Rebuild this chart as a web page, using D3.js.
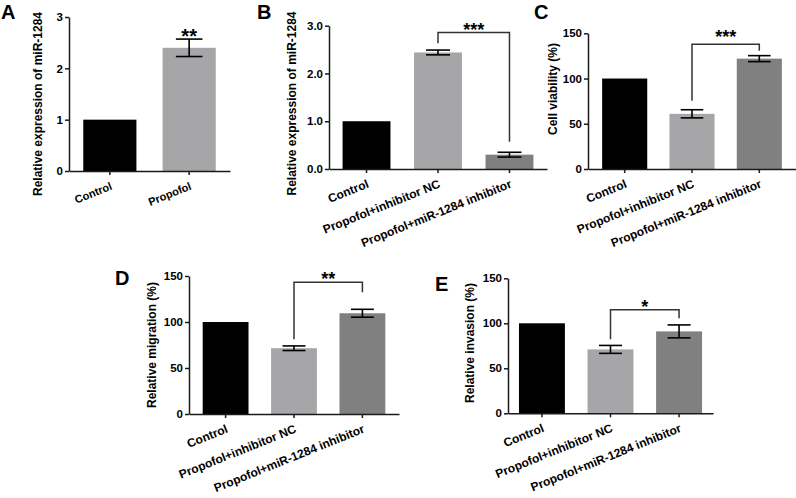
<!DOCTYPE html>
<html><head><meta charset="utf-8">
<script src="https://cdn.jsdelivr.net/npm/d3@7"></script>
<style>
html,body{margin:0;padding:0;background:#fff;}
svg{display:block;font-family:"Liberation Sans",Arial,sans-serif;}
</style></head>
<body>
<svg id="chart" width="796" height="498"></svg>
<script>
// ---------------- data ----------------
const panelLetters = ["A", "B", "C", "D", "E"];
const categoriesA = ["Control", "Propofol"];
const categoriesBCDE = ["Control", "Propofol+inhibitor NC", "Propofol+miR-1284 inhibitor"];
const yTitles = [
  "Relative expression of miR-1284",
  "Relative expression of miR-1284",
  "Cell viability (%)",
  "Relative migration (%)",
  "Relative invasion (%)"
];
const meanA = [1.0, 2.40];
const errA  = [0, 0.17];
const meanB = [1.0, 2.44, 0.30];
const errB  = [0, 0.05, 0.05];
const meanC = [100, 61, 122];
const errC  = [0, 4.5, 3.3];
const meanD = [100, 71.5, 109.5];
const errD  = [0, 2.5, 4.3];
const meanE = [100, 71, 91];
const errE  = [0, 4.4, 7.2];
const ticksA = [0, 1, 2, 3];
const ticksB = [0, 1, 2, 3];
const ticksPct = [0, 50, 100, 150];
// significance annotations (data units): label, star height, bracket [from,to], top, left end, right end
const sigLabels = ["**", "***", "***", "**", "*"];
const sigStarY  = [2.71, 2.99, 150.3, 150.5, 122.6];
const sigTop    = [null, 2.86, 137.8, 143.2, 115.1];
const sigLeft   = [null, 2.63, 75.5, 81.2, 82.2];
const sigRight  = [null, 0.57, 130.7, 132.3, 105.6];

// ---------------- layout ----------------
const colors = ["#000000", "#a6a6a9", "#808080"];
const layout = [
  {x0: 69,  x1: 230, y0: 171,   yTop: 17,    po: 0.18, ymax: 3,   fmt: d3.format("d"),   lab: [1, 19],   xfs: 11, starFs: 20},
  {x0: 329, x1: 547, y0: 169,   yTop: 25.7,  po: 0.19, ymax: 3,   fmt: d3.format(".1f"), lab: [257, 19], xfs: 12, starFs: 18},
  {x0: 588, x1: 796, y0: 169,   yTop: 33.3,  po: 0.21, ymax: 150, fmt: d3.format("d"),   lab: [534, 19], xfs: 12, starFs: 18},
  {x0: 189, x1: 399, y0: 414,   yTop: 276,   po: 0.20, ymax: 150, fmt: d3.format("d"),   lab: [115, 285], xfs: 12, starFs: 18},
  {x0: 508, x1: 713, y0: 413.3, yTop: 278.3, po: 0.16, ymax: 150, fmt: d3.format("d"),   lab: [435, 291], xfs: 12, starFs: 18}
];
const titlePos = [[38, 104], [292, 103.5], [553, 89], [152, 345], [470, 343]];

const panels = [
  {cats: categoriesA,    mean: meanA, err: errA, ticks: ticksA},
  {cats: categoriesBCDE, mean: meanB, err: errB, ticks: ticksB},
  {cats: categoriesBCDE, mean: meanC, err: errC, ticks: ticksPct},
  {cats: categoriesBCDE, mean: meanD, err: errD, ticks: ticksPct},
  {cats: categoriesBCDE, mean: meanE, err: errE, ticks: ticksPct}
];

const svg = d3.select("#chart");
const axisColor = "#1a1a1a";

panels.forEach((p, i) => {
  const L = layout[i];
  const g = svg.append("g");
  const x = d3.scaleBand().domain(p.cats).range([L.x0, L.x1]).paddingInner(0.33).paddingOuter(L.po);
  const y = d3.scaleLinear().domain([0, L.ymax]).range([L.y0, L.yTop]);
  const rows = p.cats.map((c, k) => ({c, v: p.mean[k], e: p.err[k], k}));

  // bars
  g.selectAll("rect.bar").data(rows).enter().append("rect")
    .attr("x", d => x(d.c)).attr("width", x.bandwidth())
    .attr("y", d => y(d.v)).attr("height", d => y(0) - y(d.v))
    .attr("fill", d => colors[d.k]);

  // error bars
  const eg = g.selectAll("g.err").data(rows.filter(d => d.e > 0)).enter().append("g")
    .attr("stroke", "#000").attr("stroke-width", 1.6).attr("fill", "none");
  const cw = x.bandwidth() * 0.25;
  eg.append("line").attr("x1", d => x(d.c) + x.bandwidth()/2).attr("x2", d => x(d.c) + x.bandwidth()/2)
    .attr("y1", d => y(d.v + d.e)).attr("y2", d => y(d.v - d.e));
  eg.append("line").attr("x1", d => x(d.c) + x.bandwidth()/2 - cw).attr("x2", d => x(d.c) + x.bandwidth()/2 + cw)
    .attr("y1", d => y(d.v + d.e)).attr("y2", d => y(d.v + d.e));
  eg.append("line").attr("x1", d => x(d.c) + x.bandwidth()/2 - cw).attr("x2", d => x(d.c) + x.bandwidth()/2 + cw)
    .attr("y1", d => y(d.v - d.e)).attr("y2", d => y(d.v - d.e));

  // y axis
  const ya = g.append("g").attr("transform", `translate(${L.x0},0)`)
    .call(d3.axisLeft(y).tickValues(p.ticks).tickFormat(L.fmt).tickSize(4).tickSizeOuter(0).tickPadding(2));
  // x axis
  const xa = g.append("g").attr("transform", `translate(0,${L.y0})`)
    .call(d3.axisBottom(x).tickSize(4).tickSizeOuter(0).tickFormat(""));
  [ya, xa].forEach(a => {
    a.select(".domain").attr("stroke", axisColor).attr("stroke-width", 1.5);
    a.selectAll(".tick line").attr("stroke", axisColor).attr("stroke-width", 1.5);
  });
  ya.selectAll(".tick text").attr("fill", "#000").attr("font-size", 11.5).attr("font-weight", "bold")
    .attr("font-family", "Liberation Sans, Arial, sans-serif");

  // x labels (rotated)
  g.selectAll("text.xl").data(p.cats).enter().append("text")
    .attr("transform", c => `translate(${x(c) + x.bandwidth()/2 + 3},${L.y0 + 18}) rotate(-22)`)
    .attr("text-anchor", "end").attr("font-size", L.xfs).attr("font-weight", "bold").attr("fill", "#000")
    .text(c => c);

  // y title
  g.append("text")
    .attr("transform", `translate(${titlePos[i][0]},${titlePos[i][1]}) rotate(-90)`)
    .attr("text-anchor", "middle").attr("dominant-baseline", "central")
    .attr("font-size", 12).attr("font-weight", "bold").attr("fill", "#000")
    .text(yTitles[i]);

  // panel letter
  g.append("text").attr("x", L.lab[0]).attr("y", L.lab[1])
    .attr("font-size", 20).attr("font-weight", "bold").attr("fill", "#000").text(panelLetters[i]);

  // significance
  let starX;
  if (sigTop[i] !== null) {
    const xl = x(p.cats[1]) + x.bandwidth()/2, xr = x(p.cats[2]) + x.bandwidth()/2;
    g.append("path")
      .attr("d", `M${xl},${y(sigLeft[i])}V${y(sigTop[i])}H${xr}V${y(sigRight[i])}`)
      .attr("fill", "none").attr("stroke", "#333").attr("stroke-width", 1.5);
    starX = (xl + xr) / 2;
  } else {
    starX = x(p.cats[1]) + x.bandwidth()/2;
  }
  g.append("text").attr("x", starX).attr("y", y(sigStarY[i]) + L.starFs * 0.55)
    .attr("text-anchor", "middle").attr("font-size", L.starFs).attr("font-weight", "bold").attr("fill", "#000")
    .text(sigLabels[i]);
});
</script>
</body></html>
